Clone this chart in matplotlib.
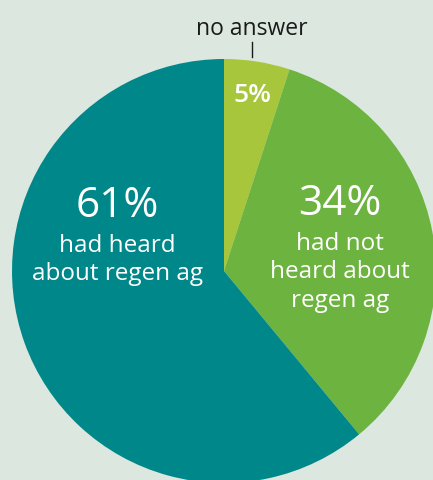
import matplotlib.pyplot as plt

# share of respondents, clockwise from the top
labels = ['no answer', 'had not heard about regen ag', 'had heard about regen ag']
shares = [5, 34, 61]
captions = [None, ['had not', 'heard about', 'regen ag'], ['had heard', 'about regen ag']]
colors = ['#a8c63b', '#6db33f', '#00878a']
bg = '#dbe7df'

plt.rcParams['font.family'] = ['Open Sans', 'DejaVu Sans']

fig = plt.figure(figsize=(4.33, 4.81), dpi=100)
fig.patch.set_facecolor(bg)
ax = fig.add_axes([0, 0, 1, 1])
ax.set_facecolor(bg)

ax.pie(shares, colors=colors, startangle=90, counterclock=False,
       center=(224, 209), radius=212, frame=True,
       wedgeprops=dict(linewidth=0))
ax.set_xlim(0, 433)
ax.set_ylim(0, 481)
ax.set_aspect('equal')
ax.axis('off')

# big percentages with their captions underneath
for i, (x, y) in [(2, (117, 275)), (1, (340, 277))]:
    ax.text(x, y, f'{shares[i]}%', color='white', fontsize=30.5,
            ha='center', va='center')
    for k, line in enumerate(captions[i]):
        ax.text(x, y - 40 - 28.5 * k, line, color='white', fontsize=17.5,
                ha='center', va='center')

ax.text(252, 385, f'{shares[0]}%', color='white', fontsize=19,
        ha='center', va='center', fontweight=600)

ax.text(252, 452, labels[0], color='#1a1a1a', fontsize=16.5,
        ha='center', va='center')
ax.plot([252, 252], [423, 438], color='#1a1a1a', linewidth=1)

fig.savefig('out.png', dpi=100, facecolor=bg)
